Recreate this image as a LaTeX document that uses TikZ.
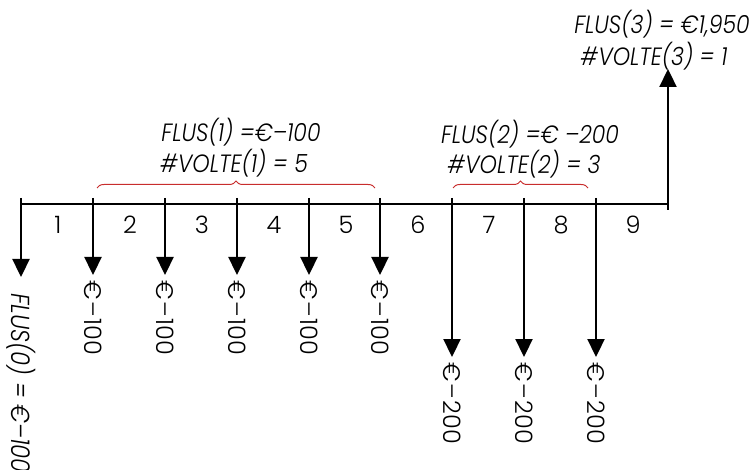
\documentclass[tikz,border=0pt]{standalone}
\usepackage{fontspec}
\IfFontExistsTF{Poppins Light}
  {\setmainfont{Poppins Light}[FakeStretch=0.88]\newfontfamily\amtfont{Poppins Light}}
  {\setmainfont{Poppins}[FakeStretch=0.88]\newfontfamily\amtfont{Poppins}}
\usetikzlibrary{arrows.meta,decorations.pathreplacing}
\definecolor{bracered}{RGB}{200,45,45}
\newcommand{\mns}{\kern2pt–\kern1.5pt}
\tikzset{
  flow/.style={line width=2.3pt,-{Triangle[length=18pt,width=17pt]}},
  axis/.style={line width=2.3pt},
  num/.style={font=\amtfont\fontsize{24}{28}\selectfont},
  amt/.style={font=\amtfont\fontsize{24}{28}\selectfont,rotate=-90,anchor=west,inner sep=0pt},
  lab/.style={font=\fontsize{25}{28}\selectfont\itshape,inner sep=0pt},
  brc/.style={draw=bracered,line width=1pt,decorate,decoration={brace,amplitude=7pt}}
}
\begin{document}
\begin{tikzpicture}[x=1pt,y=-1pt]
\useasboundingbox (0,0) rectangle (755,470);
% axis points
\foreach \n/\x in {0/21,1/93,2/165,3/237,4/309,5/380,6/452,7/524,8/596,9/668}{
  \coordinate (t\n) at (\x,204);
  \coordinate (top\n) at (\x,198);
}
\coordinate (e0) at (21,277);
\foreach \n/\x in {1/93,2/165,3/237,4/309,5/380}{\coordinate (e\n) at (\x,275);}
\foreach \n/\x in {6/452,7/524,8/596}{\coordinate (e\n) at (\x,357);}
\coordinate (b9) at (668,210);
\coordinate (e9) at (668,69);
% timeline
\draw[axis] (t0) -- (t9);
% outflows
\foreach \n in {0,...,8}{\draw[flow] (top\n) -- (e\n);}
% inflow
\draw[flow] (b9) -- (e9);
% period numbers
\foreach \n/\x in {1/58,2/130,3/202,4/274,5/346,6/418,7/489,8/561,9/633}{
  \node[num] (p\n) at (\x,225) {\n};
}
% amounts
\node[amt,font=\fontsize{26}{28}\selectfont\itshape] (a0) at (21,293) {FLUS(0) = €–100};
\foreach \n in {1,...,5}{\node[amt] (a\n) at ([yshift=-5pt]e\n) {€\mns100};}
\foreach \n in {6,7,8}{\node[amt] (a\n) at ([yshift=-5pt]e\n) {€\mns200};}
% braces
\coordinate (bl1) at (97,188);
\coordinate (br1) at (375,188);
\coordinate (bl2) at (453,188);
\coordinate (br2) at (588,188);
\draw[brc] (bl1) -- (br1);
\draw[brc] (bl2) -- (br2);
% group labels
\node[lab] (f1) at (241,132) {FLUS(1) =€–100};
\node[lab] (v1) at (234,163) {\#VOLTE(1) = 5};
\node[lab] (f2) at (530,134) {FLUS(2) =€ –200};
\node[lab] (v2) at (524,164) {\#VOLTE(2) = 3};
\node[lab] (f3) at (662,24) {FLUS(3) = €1,950};
\node[lab] (v3) at (654,56) {\#VOLTE(3) = 1};
\end{tikzpicture}
\end{document}
